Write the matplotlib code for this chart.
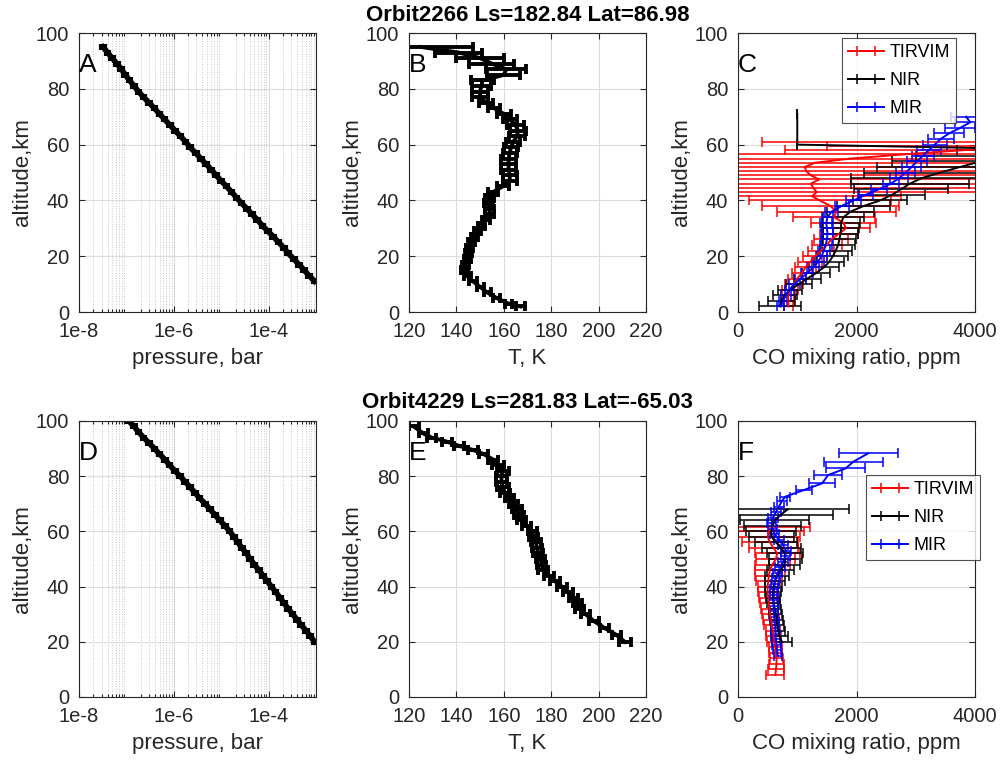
import matplotlib
matplotlib.use("Agg")
import matplotlib.pyplot as plt
from matplotlib.ticker import FixedLocator, LogLocator, NullFormatter

plt.rcParams['font.family'] = ['Liberation Sans', 'DejaVu Sans']

# ---- top row: Orbit 2266 ----
title_top = "Orbit2266 Ls=182.84 Lat=86.98"
alt_pA = [11, 13, 15, 17, 19, 21, 23, 25, 27, 29, 31, 33, 35, 37, 39, 41, 43, 45, 47, 49, 51,
          53, 55, 57, 59, 61, 63, 65, 67, 69, 71, 73, 75, 77, 79, 81, 83, 85, 87, 89, 91, 93, 95]
pres_A = [9.3e-4, 7.2e-4, 5.6e-4, 4.4e-4, 3.4e-4, 2.6e-4, 2.1e-4, 1.62e-4, 1.26e-4, 9.6e-5,
          7.4e-5, 5.8e-5, 4.5e-5, 3.5e-5, 2.7e-5, 2.1e-5, 1.66e-5, 1.29e-5, 1.0e-5, 7.8e-6,
          6.2e-6, 4.8e-6, 3.7e-6, 2.9e-6, 2.2e-6, 1.78e-6, 1.38e-6, 1.07e-6, 8.3e-7, 6.4e-7,
          5.0e-7, 3.9e-7, 3.0e-7, 2.3e-7, 1.8e-7, 1.45e-7, 1.17e-7, 9.5e-8, 7.8e-8, 6.3e-8,
          5.0e-8, 4.0e-8, 3.2e-8]

alt_B = [2, 3, 5, 7, 9, 11, 13, 15, 17, 19, 21, 23, 25, 27, 29, 31, 33, 35, 37, 39, 41, 43,
         45, 47, 49, 51, 53, 55, 57, 59, 61, 63, 65, 67, 69, 71, 73, 75, 77, 79, 81, 83, 85,
         87, 89, 91, 93, 95]
temp_B = [167, 162, 157, 153, 150, 147, 144.5, 143.5, 144, 144.5, 145, 145.5, 146.5, 147.5,
          149, 150.5, 152.5, 154, 154, 153.5, 154, 155.5, 159.5, 162.5, 162.5, 162, 162, 162,
          162.5, 163, 164, 165.5, 166, 165, 162.5, 160, 156, 152.5, 150, 150, 150.5, 151,
          160, 161, 155, 150, 141, 125]
terr_B = [2, 1.5, 1.5, 1.5, 1.5, 1.5, 1.5, 1.5, 1.5, 1.5, 1.5, 1.5, 1.5, 1.5, 1.5, 1.5, 1.5,
          2, 2, 2, 2, 2, 2.5, 3, 3, 3, 3, 3, 3, 3, 3, 3.5, 3.5, 3.5, 3, 3, 2.5, 3, 3.5, 3.5,
          4, 5, 7, 8.5, 9.5, 10, 10, 22]

alt_C_tir = [2, 4, 6, 8, 10, 12, 14, 16, 18, 20, 22, 24, 26, 28, 30, 32, 34, 36, 38, 40,
             41.5, 43, 44.5, 46, 47.5, 49, 50.5, 52, 53.5, 55, 56.5, 58, 59.5, 61]
co_C_tir = [850, 850, 845, 880, 940, 1000, 1080, 1140, 1220, 1300, 1400, 1500, 1570, 1700,
            1820, 1780, 1620, 1660, 1560, 1380, 1250, 1330, 1270, 1230, 1370, 1230, 1150,
            1130, 1300, 1900, 2800, 3800, 5000, 6000]
err_C_tir = [80, 100, 120, 130, 150, 150, 170, 180, 200, 200, 220, 250, 280, 320, 400, 550,
             700, 1000, 1150, 1200, 1500, 2800, 3000, 3000, 3000, 3000, 3000, 3000, 3000,
             3000, 3000, 3000, 3500, 5600]

alt_C_nir = [2, 4, 6, 8, 10, 12, 14, 16, 18, 20, 22, 24, 26, 28, 30, 32, 34, 36, 38, 40, 42,
             44, 46, 48, 50, 52, 54, 56, 58, 60, 71]
co_C_nir = [710, 730, 790, 880, 1030, 1170, 1320, 1450, 1540, 1600, 1650, 1690, 1710, 1730,
            1740, 1740, 1780, 1900, 2120, 2400, 2600, 2750, 2900, 3100, 3420, 3750, 4100,
            4800, 6000, 1000, 1000]
err_C_nir = [360, 230, 200, 200, 220, 230, 240, 250, 250, 260, 270, 280, 280, 300, 300, 320,
             350, 400, 450, 460, 550, 800, 1000, 1200, 1300, 1400, 1500, 1800, 2300, 0, 0]

alt_C_mir = [2, 4, 6, 8, 10, 12, 14, 16, 18, 20, 22, 24, 26, 28, 30, 32, 34, 36, 38, 40, 42,
             44, 46, 48, 50, 52, 54, 56, 58, 60, 62, 64, 66, 68, 70]
co_C_mir = [720, 760, 810, 870, 950, 1060, 1170, 1270, 1350, 1410, 1450, 1480, 1500, 1510,
            1500, 1490, 1510, 1580, 1750, 1950, 2150, 2380, 2580, 2720, 2830, 2930, 3020,
            3120, 3220, 3320, 3420, 3560, 3750, 3920, 3850]
err_C_mir = [60, 70, 80, 80, 90, 90, 100, 100, 100, 100, 100, 100, 100, 100, 100, 100, 100,
             110, 120, 130, 130, 140, 140, 150, 160, 160, 170, 180, 200, 200, 220, 250, 250,
             250, 250]

# ---- bottom row: Orbit 4229 ----
title_bot = "Orbit4229 Ls=281.83 Lat=-65.03"
alt_pD = [20, 22, 24, 26, 28, 30, 32, 34, 36, 38, 40, 42, 44, 46, 48, 50, 52, 54, 56, 58, 60,
          62, 64, 66, 68, 70, 72, 74, 76, 78, 80, 82, 84, 86, 88, 90, 92, 94, 96, 98, 100]
pres_D = [9.3e-4, 7.6e-4, 6.2e-4, 4.9e-4, 4.0e-4, 3.2e-4, 2.6e-4, 2.1e-4, 1.74e-4, 1.41e-4,
          1.15e-4, 9.3e-5, 7.6e-5, 6.2e-5, 5.0e-5, 4.1e-5, 3.4e-5, 2.75e-5, 2.24e-5, 1.86e-5,
          1.51e-5, 1.2e-5, 9.3e-6, 7.4e-6, 5.8e-6, 4.6e-6, 3.5e-6, 2.8e-6, 2.2e-6, 1.74e-6,
          1.35e-6, 1.05e-6, 8.1e-7, 6.5e-7, 5.0e-7, 3.9e-7, 3.0e-7, 2.3e-7, 1.8e-7, 1.45e-7,
          1.12e-7]
p_rel_err = 0.09

alt_E = [20, 22.5, 25, 27.5, 30, 32, 34, 36, 38, 40, 42, 44, 46, 48, 50, 52, 54, 56, 58, 60,
         62, 64, 66, 68, 70, 72, 74, 76, 78, 80, 82, 84, 86, 88, 89.5, 91, 92.5, 94, 95.5, 98]
temp_E = [211, 207.5, 202.5, 198, 194.5, 192, 191, 189.5, 187, 184.5, 181.5, 179, 176.5, 176,
          175.5, 174.5, 174, 173.5, 172.5, 172, 169.5, 167.5, 166.5, 165.5, 164, 162.5,
          160.5, 159.5, 159, 159, 159.5, 157.5, 155.5, 151.5, 147, 141, 136, 129.5, 126, 122]
terr_E = [2.5, 2, 2, 2, 2, 2, 2, 2, 2, 2, 2, 2, 2, 2, 2, 2, 2, 2, 2, 2, 2, 2, 2, 2, 2, 2, 2,
          2.5, 2.5, 2.5, 2.5, 2.5, 2, 2, 2, 2, 2, 2, 2, 2]

alt_F_tir = [8, 10, 12, 14, 16, 18, 20, 22, 24, 26, 28, 30, 32, 34, 36, 38, 40, 42, 44, 46,
             48, 50, 52, 54, 56, 58, 60, 61.5]
co_F_tir = [630, 640, 650, 650, 640, 630, 610, 600, 590, 570, 560, 540, 530, 520, 510, 500,
            500, 510, 520, 540, 580, 640, 660, 600, 540, 500, 520, 600]
err_F_tir = [150, 140, 120, 110, 110, 110, 120, 120, 120, 130, 130, 130, 140, 150, 150, 160,
             170, 200, 230, 260, 300, 330, 380, 420, 480, 550, 600, 620]

alt_F_nir = [20, 22, 24, 26, 28, 30, 32, 34, 36, 38, 40, 42, 44, 46, 48, 50, 52, 54, 56, 58,
             60, 62, 64, 66, 68]
co_F_nir = [740, 700, 680, 660, 650, 640, 620, 600, 590, 590, 600, 620, 660, 720, 780, 800,
            790, 730, 640, 570, 560, 580, 620, 720, 840]
err_F_nir = [170, 140, 120, 110, 110, 110, 100, 110, 120, 130, 150, 170, 200, 230, 260, 280,
             300, 330, 350, 380, 420, 480, 580, 880, 1030]

alt_F_mir = [15, 17, 19, 21, 23, 25, 27, 29, 31, 33, 35, 37, 39, 41, 43, 45, 47, 49, 51, 53,
             55, 57, 59, 61, 63, 65, 67, 69, 71, 72.6, 75, 77.4, 80.4, 82.8, 85.3, 88.3]
co_F_mir = [670, 660, 650, 640, 635, 630, 620, 610, 605, 600, 600, 605, 610, 620, 640, 670,
            710, 760, 800, 810, 760, 690, 620, 580, 565, 590, 640, 690, 740, 800, 1115, 1420,
            1520, 1815, 1950, 2200]
err_F_mir = [70, 70, 70, 70, 70, 70, 70, 70, 70, 70, 70, 70, 70, 70, 70, 80, 80, 80, 80, 80,
             80, 80, 80, 80, 80, 80, 80, 80, 90, 85, 140, 225, 240, 335, 500, 500]

DARK = '#262626'
GRID = '#dcdcdc'

fig = plt.figure(figsize=(10.03, 7.64), dpi=100)

W = 0.2363
rows = [(0.5916, 0.3652), (0.0877, 0.3613)]
lefts = [0.0788, 0.4078, 0.7358]
axs = [[fig.add_axes([l, b, W, h]) for l in lefts] for b, h in rows]


def style(ax, letter):
    for s in ax.spines.values():
        s.set_color(DARK)
        s.set_linewidth(0.8)
    ax.tick_params(direction='in', which='both', top=True, right=True, colors=DARK,
                   labelsize=14.5, length=4, width=0.8, pad=7)
    ax.tick_params(which='minor', length=2)
    ax.grid(True, which='major', color=GRID, lw=0.8)
    ax.set_axisbelow(True)
    ax.set_ylim(0, 100)
    ax.set_yticks([0, 20, 40, 60, 80, 100])
    ax.set_ylabel('altitude,km', fontsize=16, color=DARK, labelpad=2)
    ax.text(0.0, 0.885, letter, transform=ax.transAxes, fontsize=19, va='center', ha='left',
            color='black')


def pressure_panel(ax, alt, pres, letter):
    perr = [p * p_rel_err for p in pres]
    ax.errorbar(pres, alt, xerr=perr, color='black', lw=4, elinewidth=3, capsize=2.5,
                capthick=3, clip_on=True)
    ax.set_xscale('log')
    ax.set_xlim(1e-8, 1e-3)
    ax.xaxis.set_major_locator(FixedLocator([1e-8, 1e-6, 1e-4]))
    ax.set_xticklabels(['1e-8', '1e-6', '1e-4'])
    ax.xaxis.set_minor_locator(LogLocator(base=10, subs=range(2, 10), numticks=20))
    ax.xaxis.set_minor_formatter(NullFormatter())
    style(ax, letter)
    ax.grid(True, which='minor', axis='x', color='#c8c8c8', lw=0.7, ls=':')
    ax.set_xlabel('pressure, bar', fontsize=16, color=DARK, labelpad=5)


def temp_panel(ax, alt, temp, terr, letter, title):
    ax.errorbar(temp, alt, xerr=terr, color='black', lw=2.8, elinewidth=2.8, capsize=3.5,
                capthick=2.8)
    ax.set_xlim(120, 220)
    ax.set_xticks([120, 140, 160, 180, 200, 220])
    style(ax, letter)
    ax.set_xlabel('T, K', fontsize=16, color=DARK, labelpad=5)
    ax.set_title(title, fontsize=16, fontweight='bold', color='black', pad=9)


def co_panel(ax, series, letter, legend_box):
    handles = []
    for alt, co, err, col in series:
        h = ax.errorbar(co, alt, xerr=err, color=col, lw=1.4, elinewidth=1.1, capsize=3.5,
                        capthick=1.1)
        handles.append(h)
    ax.set_xlim(0, 4000)
    ax.set_xticks([0, 2000, 4000])
    style(ax, letter)
    ax.set_xlabel('CO mixing ratio, ppm', fontsize=16, color=DARK, labelpad=5)
    leg = ax.legend(handles, ['TIRVIM', 'NIR', 'MIR'], loc='upper left',
                    bbox_to_anchor=legend_box, fontsize=13, frameon=True, fancybox=False,
                    borderpad=0.35, labelspacing=0.6, handlelength=2.0, handletextpad=0.3,
                    borderaxespad=0)
    leg.get_frame().set_edgecolor(DARK)
    leg.get_frame().set_linewidth(0.8)


pressure_panel(axs[0][0], alt_pA, pres_A, 'A')
temp_panel(axs[0][1], alt_B, temp_B, terr_B, 'B', title_top)
co_panel(axs[0][2], [(alt_C_tir, co_C_tir, err_C_tir, 'red'),
                     (alt_C_nir, co_C_nir, err_C_nir, 'black'),
                     (alt_C_mir, co_C_mir, err_C_mir, 'blue')], 'C', (0.437, 0.982))

pressure_panel(axs[1][0], alt_pD, pres_D, 'D')
temp_panel(axs[1][1], alt_E, temp_E, terr_E, 'E', title_bot)
co_panel(axs[1][2], [(alt_F_tir, co_F_tir, err_F_tir, 'red'),
                     (alt_F_nir, co_F_nir, err_F_nir, 'black'),
                     (alt_F_mir, co_F_mir, err_F_mir, 'blue')], 'F', (0.538, 0.804))

fig.savefig('out.png', dpi=100)
